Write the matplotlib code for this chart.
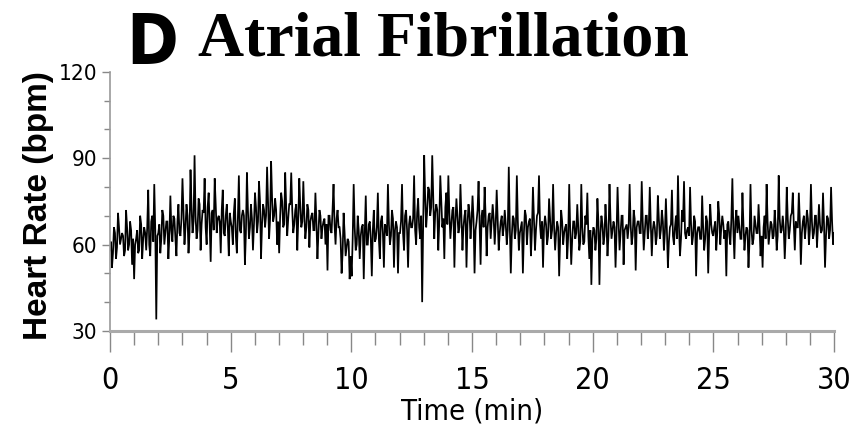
import numpy as np
import matplotlib
matplotlib.use("Agg")
import matplotlib.pyplot as plt
from matplotlib.ticker import MultipleLocator
from matplotlib import font_manager

# Heart rate (bpm) in half-minute chunks (6 readings each).
# Spikes / outer readings of the trace:
heart_rate_outer = [
    58, 52, 66, 55, 71, 60,   64, 56, 72, 58, 68, 53,
    48, 62, 57, 70, 55, 66,   58, 79, 56, 70, 81, 34,
    64, 57, 72, 60, 68, 55,   77, 61, 69, 56, 74, 63,
    83, 60, 74, 57, 86, 64,   91, 62, 76, 58, 72, 83,
    60, 78, 54, 72, 83, 64,   70, 57, 79, 63, 74, 56,
    68, 60, 76, 57, 84, 64,   72, 53, 85, 62, 74, 58,
    78, 64, 82, 55, 74, 66,   87, 62, 89, 68, 76, 60,
    57, 78, 66, 85, 63, 74,   85, 64, 72, 58, 83, 66,
    82, 62, 74, 59, 70, 65,   78, 55, 72, 62, 68, 60,
    51, 70, 64, 81, 60, 72,   66, 50, 71, 56, 62, 48,
    49, 81, 58, 70, 55, 66,   48, 77, 60, 68, 49, 72,
    62, 78, 55, 70, 52, 66,   81, 60, 72, 52, 68, 50,
    64, 81, 58, 72, 52, 70,   66, 84, 60, 76, 62, 40,
    91, 66, 80, 70, 91, 62,   74, 58, 84, 66, 55, 78,
    84, 62, 72, 52, 76, 64,   81, 58, 70, 52, 74, 62,
    77, 50, 68, 82, 53, 72,   80, 56, 70, 62, 74, 60,
    79, 58, 68, 63, 72, 60,   87, 50, 70, 62, 84, 58,
    66, 50, 72, 60, 68, 56,   80, 58, 70, 84, 62, 52,
    70, 60, 76, 62, 81, 58,   68, 49, 72, 60, 66, 55,
    81, 53, 68, 62, 74, 58,   81, 60, 70, 78, 55, 46,
    66, 58, 76, 46, 70, 60,   74, 56, 81, 62, 68, 52,
    80, 58, 70, 53, 66, 62,   81, 60, 72, 51, 68, 64,
    82, 58, 70, 62, 80, 56,   68, 60, 77, 62, 72, 58,
    76, 52, 66, 79, 60, 70,   84, 56, 72, 82, 62, 66,
    80, 60, 70, 49, 66, 62,   77, 58, 70, 50, 74, 64,
    66, 58, 75, 60, 70, 62,   49, 68, 60, 83, 55, 72,
    70, 62, 78, 58, 66, 52,   81, 60, 70, 64, 74, 56,
    52, 70, 81, 60, 68, 62,   72, 58, 84, 64, 70, 55,
    80, 62, 70, 78, 58, 66,   78, 53, 68, 62, 72, 60,
    81, 62, 70, 59, 74, 64,   78, 52, 70, 62, 80, 60,
]
# Readings of the dense central band (same chunks), interleaved with the above
heart_rate_core = [
    61, 57, 64, 59, 66, 62,   63, 58, 66, 60, 65, 62,
    60, 65, 58, 67, 62, 64,   66, 60, 68, 61, 65, 63,
    67, 62, 70, 64, 68, 63,   65, 70, 62, 68, 64, 69,
    72, 66, 70, 64, 73, 68,   70, 65, 74, 67, 71, 66,
    73, 67, 71, 65, 74, 69,   68, 72, 64, 70, 66, 71,
    66, 71, 63, 69, 65, 70,   70, 64, 72, 66, 69, 67,
    73, 68, 75, 67, 72, 70,   74, 69, 76, 70, 72, 68,
    70, 75, 67, 73, 69, 74,   72, 67, 74, 69, 73, 68,
    70, 66, 72, 68, 71, 65,   68, 64, 70, 66, 69, 67,
    70, 65, 72, 67, 69, 66,   62, 57, 64, 59, 61, 56,
    62, 66, 60, 65, 63, 67,   64, 60, 67, 62, 65, 61,
    66, 62, 68, 64, 67, 63,   67, 63, 69, 65, 66, 64,
    68, 64, 70, 65, 67, 66,   69, 65, 71, 66, 70, 67,
    76, 72, 79, 73, 77, 71,   72, 68, 75, 69, 73, 67,
    71, 67, 73, 68, 70, 66,   70, 66, 72, 67, 71, 68,
    69, 65, 72, 67, 70, 66,   70, 66, 71, 68, 69, 67,
    68, 64, 70, 66, 67, 65,   67, 63, 69, 65, 68, 64,
    68, 64, 70, 66, 69, 65,   69, 65, 71, 67, 68, 66,
    67, 63, 69, 65, 66, 64,   66, 62, 68, 64, 67, 63,
    65, 62, 68, 64, 66, 61,   66, 61, 67, 63, 65, 62,
    65, 62, 68, 64, 67, 63,   67, 63, 69, 65, 66, 64,
    68, 64, 70, 65, 67, 66,   67, 63, 69, 66, 68, 64,
    68, 64, 70, 66, 67, 65,   66, 63, 69, 65, 68, 64,
    65, 61, 67, 63, 66, 62,   66, 62, 68, 64, 65, 63,
    67, 63, 68, 64, 66, 62,   66, 62, 68, 64, 67, 63,
    68, 64, 70, 66, 67, 65,   67, 63, 69, 65, 68, 64,
    66, 62, 67, 63, 65, 61,   65, 62, 67, 64, 66, 63,
    66, 62, 68, 64, 67, 63,   67, 63, 69, 65, 66, 64,
    69, 65, 71, 67, 68, 66,   68, 64, 70, 66, 69, 65,
    68, 64, 70, 66, 67, 65,   67, 63, 69, 65, 68, 64,
]
duration_min = 30
y_ticks = [30, 60, 90, 120]
x_ticks = [0, 5, 10, 15, 20, 25, 30]

hr = np.column_stack([heart_rate_outer, heart_rate_core]).ravel().astype(float)
time_min = np.arange(len(hr)) * duration_min / (len(hr) - 1)

# pick a narrow sans font if one is installed
names = {f.name for f in font_manager.fontManager.ttflist}
stretches = {(f.name, f.stretch) for f in font_manager.fontManager.ttflist}
if "Liberation Sans Narrow" in names:
    narrow = dict(family="Liberation Sans Narrow", stretch="normal")
    nscale = 1.0
elif any(n == "DejaVu Sans" and s in ("condensed", "semi-condensed") for n, s in stretches) \
        or "DejaVu Sans Condensed" in names:
    narrow = dict(family="DejaVu Sans", stretch="condensed")
    nscale = 0.95
else:
    narrow = dict(family="Liberation Sans", stretch="normal")
    nscale = 0.9

fig = plt.figure(figsize=(8.59, 4.46), dpi=100)
ax = fig.add_axes([0.128, 0.258, 0.843, 0.581])

ax.plot(time_min, hr, color="black", lw=1.25, solid_joinstyle="miter")

ax.set_xlim(0, 30)
ax.set_ylim(30, 120)
ax.set_xticks(x_ticks)
ax.set_yticks(y_ticks)
ax.xaxis.set_minor_locator(MultipleLocator(1))
ax.yaxis.set_minor_locator(MultipleLocator(10))

for s in ["top", "right"]:
    ax.spines[s].set_visible(False)
ax.spines["left"].set_color("#999999")
ax.spines["left"].set_linewidth(1.2)
ax.spines["bottom"].set_color("#aaaaaa")
ax.spines["bottom"].set_linewidth(2.2)

ax.tick_params(axis="x", which="major", length=15, width=1, color="#888888",
               pad=10, labelsize=23 * nscale)
ax.tick_params(axis="x", which="minor", length=10, width=1, color="#888888")
ax.tick_params(axis="y", which="major", length=6, width=1, color="#888888",
               pad=3, labelsize=17 * nscale)
ax.tick_params(axis="y", which="minor", length=4, width=1, color="#888888")
for lab in ax.get_xticklabels() + ax.get_yticklabels():
    lab.set_fontfamily(narrow["family"])
    lab.set_fontstretch(narrow["stretch"])

ax.set_xlabel("Time (min)", fontfamily=narrow["family"], fontstretch=narrow["stretch"],
              fontsize=22 * nscale, labelpad=2)
fig.text(0.045, 0.54, "Heart Rate (bpm)", rotation=90, ha="center", va="center",
         fontfamily="Liberation Sans", fontweight="heavy", fontsize=24)

fig.text(0.147, 0.975, "D", ha="left", va="top", fontfamily=narrow["family"],
         fontstretch=narrow["stretch"], fontsize=50, fontweight="bold")
fig.text(0.231, 0.975, "Atrial Fibrillation", ha="left", va="top",
         fontfamily="Liberation Serif", fontweight="bold", fontsize=46)

fig.savefig("out.png", dpi=100)
